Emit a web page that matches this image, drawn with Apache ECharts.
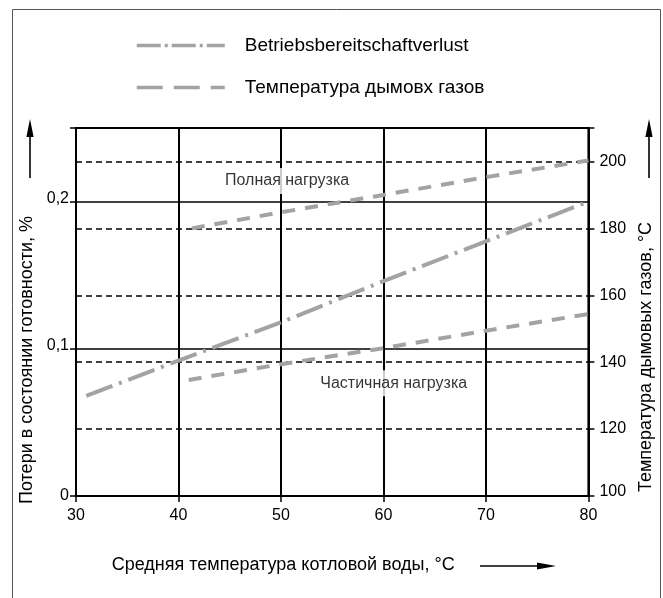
<!DOCTYPE html>
<html>
<head>
<meta charset="utf-8">
<script src="https://cdn.jsdelivr.net/npm/echarts@6/dist/echarts.min.js"></script>
<style>
  html, body { margin: 0; padding: 0; background: #fff; }
  #chart { width: 663px; height: 598px; }
</style>
</head>
<body>
<div id="chart"></div>
<script>
// Boiler water temperature, °C (x axis)
const waterTempTicks = [30, 40, 50, 60, 70, 80];

// Standby loss, % (left axis)
const standbyTemp = [31, 40, 50, 60, 70, 80];
const standbyLoss = [0.068, 0.092, 0.118, 0.146, 0.173, 0.200];

// Flue gas temperature, °C (right axis)
const fullLoadTemp = [41.3, 50, 60, 70, 80];
const fullLoadFlue = [180, 184.8, 190, 195.3, 200.3];
const partLoadTemp = [41, 50, 60, 70, 80];
const partLoadFlue = [134.7, 139.4, 144.2, 149.4, 154.4];

// Tick labels
const lossTicks = [0, 0.1, 0.2];
const lossTickLabels = ['0', '0,1', '0,2'];
const flueTicks = [100, 120, 140, 160, 180, 200];

// Curve captions, placed in data space (x: °C, y: % on left axis)
const captionText = ['Полная нагрузка', 'Частичная нагрузка'];
const captionAt = [[50.6, 0.214], [61, 0.0766]];

const FONT = '"Liberation Sans", Arial, Helvetica, sans-serif';
const GREY = '#a3a3a3';
const zip = (xs, ys) => xs.map((x, i) => [x, ys[i]]);

const chart = echarts.init(document.getElementById('chart'), null, { renderer: 'canvas' });

const arrowUp = (x, yTop, yBottom) => ({
  type: 'group',
  children: [
    { type: 'line', shape: { x1: x, y1: yBottom, x2: x, y2: yTop + 14 }, style: { stroke: '#000', lineWidth: 1.6 } },
    { type: 'polygon', shape: { points: [[x, yTop], [x - 3.6, yTop + 18], [x + 3.6, yTop + 18]] }, style: { fill: '#000' } }
  ]
});

const noSymbol = { opacity: 0, color: 'transparent', borderWidth: 0 };

const option = {
  backgroundColor: '#fff',
  animation: false,
  textStyle: { fontFamily: FONT, color: '#000' },
  grid: {
    left: 76, right: 66, top: 128, bottom: 102,
    show: true, borderColor: '#000', borderWidth: 2, backgroundColor: 'transparent'
  },
  legend: {
    left: 130, top: 31, orient: 'vertical',
    itemWidth: 88, itemHeight: 14, itemGap: 23,
    textStyle: { fontFamily: FONT, fontSize: 19, color: '#000', padding: [0, 0, 0, 15] },
    data: [
      { name: 'Betriebsbereitschaftverlust', itemStyle: noSymbol, lineStyle: { color: GREY, width: 3.5, type: [24, 4, 3, 4] } },
      { name: 'Температура дымовх газов', itemStyle: noSymbol, lineStyle: { color: GREY, width: 3.5, type: [26, 11] } }
    ]
  },
  xAxis: {
    type: 'value', min: 30, max: 80, interval: 10,
    name: 'Средняя температура котловой воды, °C',
    nameLocation: 'middle', nameGap: 60,
    nameTextStyle: { fontFamily: FONT, fontSize: 18, color: '#000', padding: [0, 98, 0, 0] },
    axisLine: { show: true, lineStyle: { color: '#000', width: 2 } },
    axisTick: { show: true, length: 6, lineStyle: { color: '#000', width: 1.5 } },
    axisLabel: {
      margin: 12, fontFamily: FONT, fontSize: 16, color: '#000',
      formatter: v => (waterTempTicks.includes(v) ? String(v) : '')
    },
    splitLine: { show: true, lineStyle: { color: '#000', width: 2 } }
  },
  yAxis: [
    {
      type: 'value', min: 0, max: 0.25, interval: 0.1, position: 'left',
      name: 'Потери в состоянии готовности, %',
      nameLocation: 'middle', nameGap: 39,
      nameTextStyle: { fontFamily: FONT, fontSize: 18, color: '#000', padding: [0, 96, 0, 0] },
      axisLine: { show: true, lineStyle: { color: '#000', width: 2 } },
      axisTick: { show: true, length: 6, lineStyle: { color: '#000', width: 1.5 } },
      axisLabel: {
        margin: 7, fontFamily: FONT, fontSize: 16, color: '#000',
        formatter: v => {
          const i = lossTicks.findIndex(t => Math.abs(t - v) < 1e-9);
          if (i < 0) return '';
          return i === 0 ? lossTickLabels[i] : '{up|' + lossTickLabels[i] + '}';
        },
        rich: { up: { fontFamily: FONT, fontSize: 16, color: '#000', padding: [0, 0, 6, 0] } }
      },
      splitLine: { show: true, lineStyle: { color: '#000', width: 1.5 } }
    },
    {
      type: 'value', min: 100, max: 210, interval: 20, position: 'right',
      name: 'Температура дымовых газов, °C',
      nameLocation: 'middle', nameGap: 43,
      nameTextStyle: { fontFamily: FONT, fontSize: 18, color: '#000', padding: [0, 90, 0, 0] },
      axisLine: { show: true, lineStyle: { color: '#000', width: 2 } },
      axisTick: { show: true, length: 6, lineStyle: { color: '#000', width: 1.5 } },
      axisLabel: {
        margin: 11, fontFamily: FONT, fontSize: 16, color: '#000',
        formatter: v => {
          if (!flueTicks.includes(v)) return '';
          return v === flueTicks[0] ? '{up|' + v + '}' : String(v);
        },
        rich: { up: { fontFamily: FONT, fontSize: 16, color: '#000', padding: [0, 0, 8, 0] } }
      },
      splitLine: { show: true, lineStyle: { color: '#000', width: 1.5, type: [6, 4] } }
    }
  ],
  series: [
    {
      name: 'Betriebsbereitschaftverlust', type: 'line', yAxisIndex: 0,
      data: zip(standbyTemp, standbyLoss), symbol: 'none', smooth: false,
      lineStyle: { color: GREY, width: 4, type: [28, 7, 3, 7] }, itemStyle: { color: GREY }, z: 3
    },
    {
      name: 'Температура дымовх газов', type: 'line', yAxisIndex: 1,
      data: zip(fullLoadTemp, fullLoadFlue), symbol: 'none',
      lineStyle: { color: GREY, width: 4, type: [13, 10] }, itemStyle: { color: GREY }, z: 3
    },
    {
      name: 'Температура дымовх газов', type: 'line', yAxisIndex: 1,
      data: zip(partLoadTemp, partLoadFlue), symbol: 'none',
      lineStyle: { color: GREY, width: 4, type: [13, 10] }, itemStyle: { color: GREY }, z: 3
    },
    {
      name: 'captions', type: 'scatter', yAxisIndex: 0, symbolSize: 0, silent: true, z: 4,
      data: captionAt.map((p, i) => ({ value: p, name: captionText[i] })),
      label: {
        show: true, position: 'inside', formatter: p => p.name,
        fontFamily: FONT, fontSize: 16, color: '#000',
        backgroundColor: '#fff', padding: [5, 3]
      }
    }
  ],
  graphic: [
    {
      type: 'rect', silent: true, z: 100,
      shape: { x: 12.5, y: 9.5, width: 648, height: 620 },
      style: { fill: 'none', stroke: '#555', lineWidth: 1 }
    },
    arrowUp(30, 119, 178),
    arrowUp(649, 119, 178),
    {
      type: 'group',
      children: [
        { type: 'line', shape: { x1: 480, y1: 566, x2: 540, y2: 566 }, style: { stroke: '#000', lineWidth: 1.6 } },
        { type: 'polygon', shape: { points: [[556, 566], [537, 562.4], [537, 569.6]] }, style: { fill: '#000' } }
      ]
    }
  ]
};

chart.setOption(option);
</script>
</body>
</html>
